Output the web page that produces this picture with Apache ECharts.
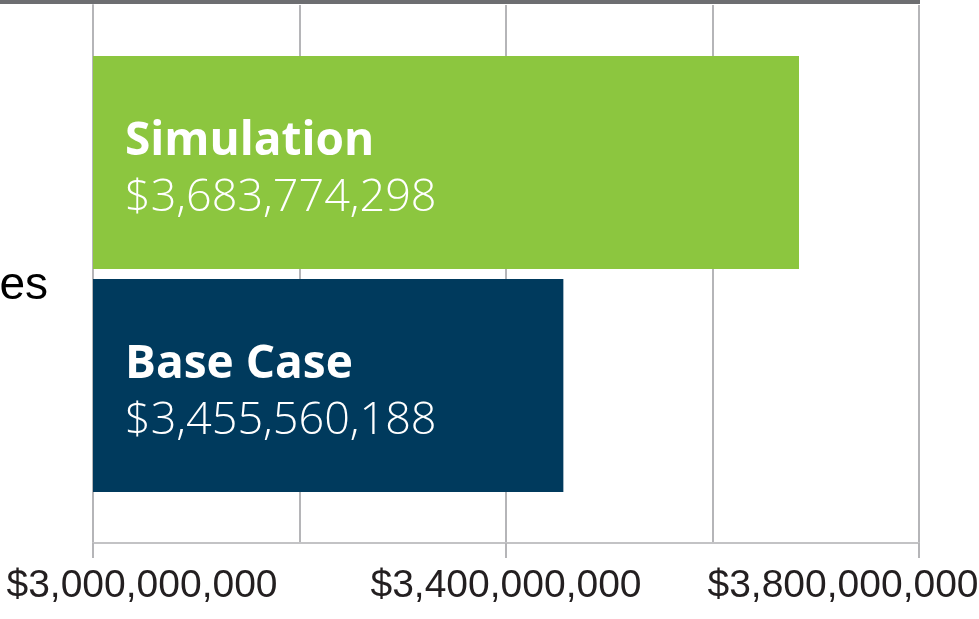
<!DOCTYPE html>
<html>
<head>
<meta charset="utf-8">
<script src="https://cdn.jsdelivr.net/npm/echarts@6/dist/echarts.min.js"></script>
<style>
  html, body { margin: 0; padding: 0; background: #fff; }
  #chart { width: 979px; height: 619px; }
</style>
</head>
<body>
<div id="chart"></div>
<script>
// data
const categories = ['es'];
const baseCase = [3455560188];
const simulation = [3683774298];
const tickValues = [3000000000, 3400000000, 3800000000];
const axisMin = 3000000000;
const axisMax = 3800000000;
const gridStep = 200000000;
const tickStep = 400000000;

const money = v => '$' + Math.round(v).toLocaleString('en-US');

// label shift so the text sits like the original (min right, max left)
const labelFmt = v => {
  if (v === tickValues[0]) return '{lo|' + money(v) + '}';
  if (v === tickValues[tickValues.length - 1]) return '{hi|' + money(v) + '}';
  return '{mid|' + money(v) + '}';
};

const tickFont = { fontFamily: 'Liberation Sans', fontSize: 39, color: '#231f20' };

const barLabel = name => ({
  show: true,
  position: 'insideLeft',
  distance: 32,
  offset: [0, 9],
  formatter: p => '{n|' + name + '}\n{v|' + money(p.value) + '}',
  rich: {
    n: { color: '#fff', fontFamily: 'Open Sans', fontWeight: 'bold', fontSize: 46, lineHeight: 54 },
    v: { color: '#fff', fontFamily: 'Open Sans', fontWeight: 300, fontSize: 45, lineHeight: 60 }
  }
});

const chart = echarts.init(document.getElementById('chart'));
chart.setOption({
  animation: false,
  grid: { left: 93, right: 60, top: 5, bottom: 76, outerBoundsMode: 'none', containLabel: false },
  graphic: [
    { type: 'rect', shape: { x: 0, y: 0, width: 920, height: 4 }, style: { fill: '#6d6e71' } }
  ],
  xAxis: [
    {
      // labelled axis
      type: 'value',
      position: 'bottom',
      min: axisMin,
      max: axisMax,
      interval: gridStep,
      axisLine: { show: true, lineStyle: { color: '#c3c3c5', width: 2 } },
      splitLine: { show: false },
      axisTick: { show: false },
      axisLabel: {
        customValues: tickValues,
        margin: 24,
        formatter: labelFmt,
        rich: {
          lo: Object.assign({ padding: [0, 0, 0, 98] }, tickFont),
          mid: Object.assign({}, tickFont),
          hi: Object.assign({ padding: [0, 152, 0, 0] }, tickFont)
        }
      }
    },
    {
      // gridlines every 200M
      type: 'value',
      position: 'bottom',
      offset: 0,
      min: axisMin,
      max: axisMax,
      interval: gridStep,
      axisLine: { show: false },
      axisTick: { show: false },
      axisLabel: { show: false },
      splitLine: { show: true, lineStyle: { color: '#b5b5b8', width: 2 } }
    },
    {
      // tick marks only under the labelled values (same span, measured from min)
      type: 'value',
      position: 'bottom',
      offset: 0,
      min: 0,
      max: axisMax - axisMin,
      interval: tickStep,
      axisLine: { show: false },
      axisTick: { show: true, length: 15, lineStyle: { color: '#b5b5b8', width: 2 } },
      axisLabel: { show: false },
      splitLine: { show: false }
    }
  ],
  yAxis: {
    type: 'category',
    data: categories,
    axisLine: { show: true, lineStyle: { color: '#b5b5b8', width: 2 } },
    axisTick: { show: false },
    axisLabel: {
      margin: 45,
      formatter: v => '{c|' + v + '}',
      rich: { c: { fontFamily: 'Liberation Sans', fontSize: 46, color: '#000', padding: [24, 0, 0, 0] } }
    }
  },
  series: [
    {
      name: 'Simulation',
      type: 'bar',
      data: simulation,
      barWidth: 213,
      barGap: '4.7%',
      itemStyle: { color: '#8cc63f' },
      label: barLabel('Simulation')
    },
    {
      name: 'Base Case',
      type: 'bar',
      data: baseCase,
      barWidth: 213,
      barGap: '4.7%',
      itemStyle: { color: '#003a5d' },
      label: barLabel('Base Case')
    }
  ]
});
</script>
</body>
</html>
